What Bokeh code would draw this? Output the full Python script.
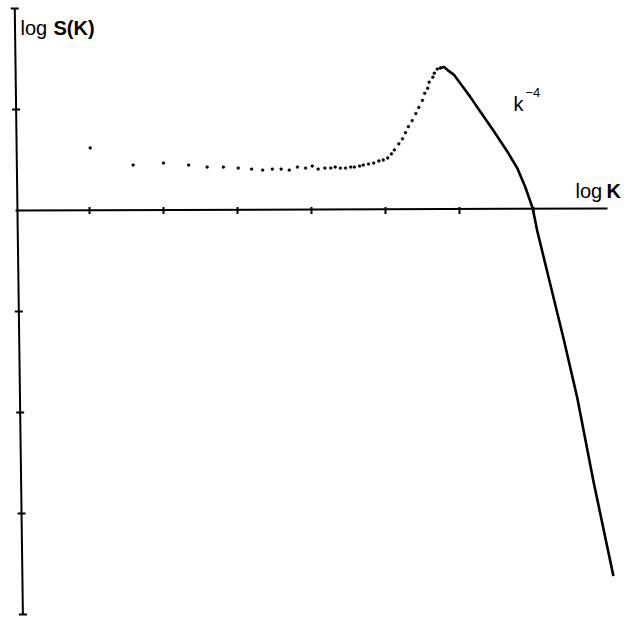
from bokeh.plotting import figure
from bokeh.models import Range1d, Label
from bokeh.embed import file_html
from bokeh.resources import INLINE

# ---- data (log K in tick units, log S(K) in tick units) ----
dot_logk = [1.01, 1.59, 2.00, 2.34, 2.59, 2.81, 3.01, 3.19, 3.34, 3.47, 3.59, 3.70,
            3.81, 3.92, 4.01, 4.09, 4.18, 4.26, 4.32, 4.39, 4.46, 4.53, 4.58, 4.65,
            4.70, 4.77, 4.84, 4.91, 4.97, 5.03, 5.08, 5.12, 5.18, 5.23, 5.27, 5.31,
            5.36, 5.41, 5.45, 5.50, 5.53, 5.57, 5.59, 5.64, 5.66, 5.70, 5.74]
dot_logs = [0.62, 0.45, 0.47, 0.45, 0.43, 0.43, 0.42, 0.41, 0.40, 0.41, 0.41, 0.40,
            0.43, 0.42, 0.44, 0.41, 0.42, 0.42, 0.43, 0.42, 0.42, 0.43, 0.43, 0.44,
            0.45, 0.46, 0.47, 0.49, 0.50, 0.52, 0.56, 0.60, 0.66, 0.71, 0.77, 0.83,
            0.89, 0.96, 1.02, 1.09, 1.16, 1.21, 1.27, 1.32, 1.36, 1.40, 1.41]

line_logk = [5.74, 5.79, 5.84, 5.93, 6.01, 6.15, 6.28, 6.46, 6.65, 6.78, 6.89, 6.99,
             7.05, 7.23, 7.41, 7.59, 7.81, 8.08]
line_logs = [1.41, 1.42, 1.39, 1.34, 1.26, 1.12, 0.98, 0.79, 0.58, 0.42, 0.23, 0.02,
             -0.20, -0.74, -1.28, -1.85, -2.68, -3.62]

x_ticks = [1, 2, 3, 4, 5, 6, 7]
y_ticks = [2, 1, -1, -2, -3, -4]

W, H = 625, 618
# pixel scale: 74 px per x unit, 101 px per y unit; origin at (15, 210)
x0_px, y0_px, sx, sy = 15.0, 210.0, 74.0, 101.0

p = figure(width=W, height=H, output_backend="svg", toolbar_location=None,
           x_range=Range1d(-x0_px / sx, (W - x0_px) / sx),
           y_range=Range1d((y0_px - H) / sy, y0_px / sy),
           min_border=0, min_border_left=0, min_border_right=0,
           min_border_top=0, min_border_bottom=0)
p.axis.visible = False
p.grid.visible = False
p.outline_line_color = None
p.background_fill_color = "white"
p.border_fill_color = "white"

# axes drawn as lines
p.line([0, 8.0], [0, 0.02], line_color="black", line_width=2)
yax_top, yax_bot = 2.0, -4.0
# vertical axis, slightly slanted as in the original print
slant = 0.11 / 6.0
def yaxis_x(yv):
    return -0.01 + (yax_top - yv) * slant
p.line([yaxis_x(yax_top), yaxis_x(yax_bot)], [yax_top, yax_bot],
       line_color="black", line_width=2)

# ticks
p.scatter(x_ticks, [0] * len(x_ticks), marker="dash", angle=1.5708, size=7,
          line_color="black", line_width=2)
p.scatter([yaxis_x(v) for v in y_ticks], y_ticks, marker="dash", size=8,
          line_color="black", line_width=2)

# data
p.scatter(dot_logk, dot_logs, marker="circle", size=2.8, fill_color="black",
          line_color="black", line_width=0.5)
p.line(line_logk, line_logs, line_color="black", line_width=2.6,
       line_join="round")

FONT = "Liberation Sans"
def lab(text, x, y, size, bold=False):
    p.add_layout(Label(x=x, y=H - y, x_units="screen", y_units="screen",
                       text=text, text_font=FONT, text_font_size=f"{size}px",
                       text_font_style="bold" if bold else "normal",
                       text_color="black", text_baseline="alphabetic",
                       text_align="left"))

lab("log", 20, 27, 20)
lab("S(K)", 53, 27, 20, bold=True)
lab("log", 575, 190, 20)
lab("K", 606, 190, 20, bold=True)
lab("k", 513, 103, 20)
lab("\u22124", 525, 92, 13)

open("out.html", "w").write(file_html(p, INLINE))
